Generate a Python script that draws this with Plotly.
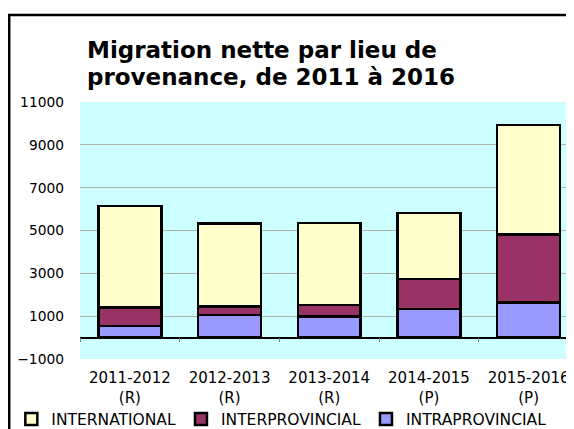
import plotly.graph_objects as go

categories = ["2011-2012<br>(R)", "2012-2013<br>(R)", "2013-2014<br>(R)",
              "2014-2015<br>(P)", "2015-2016<br>(P)"]
intraprovincial = [530, 1060, 980, 1340, 1650]
interprovincial = [870, 390, 550, 1390, 3170]
international = [4750, 3880, 3830, 3090, 5100]

title_lines = ["Migration nette par lieu de", "provenance, de 2011 à 2016"]

series = [
    ("INTRAPROVINCIAL", intraprovincial, "#9999ff"),
    ("INTERPROVINCIAL", interprovincial, "#993366"),
    ("INTERNATIONAL", international, "#ffffcc"),
]

fig = go.Figure()
for name, vals, color in series:
    fig.add_bar(
        x=categories,
        y=vals,
        name=name,
        marker_color=color,
        marker_line_color="black",
        marker_line_width=2.5,
    )

font = "DejaVu Sans, Verdana, sans-serif"
y_lo, y_hi = -1000, 11000

# page body adds an 8px offset, layout numbers below account for it
fig.update_layout(
    width=574,
    height=429,
    barmode="stack",
    bargap=0.37,
    margin=dict(l=72, r=8, t=94, b=78, autoexpand=False),
    paper_bgcolor="white",
    plot_bgcolor="#ccffff",
    font=dict(family=font, size=14, color="black"),
    showlegend=True,
    legend=dict(
        orientation="h", traceorder="reversed",
        x=-0.139, xanchor="left", y=-0.169, yanchor="top",
        font=dict(size=15.5), bgcolor="rgba(0,0,0,0)",
    ),
    xaxis=dict(
        anchor="free", position=(0 - y_lo) / (y_hi - y_lo),
        showline=True, linecolor="black", linewidth=1.5,
        ticks="outside", tickson="boundaries", ticklen=4, tickcolor="#808080",
        ticklabelstandoff=27, showgrid=False,
        tickfont=dict(size=15),
        range=[-0.5, 4.455],
    ),
    yaxis=dict(
        range=[y_lo, y_hi], tickvals=list(range(-1000, 11001, 2000)),
        tickformat="d",
        showgrid=True, gridcolor="#b0b0b0", gridwidth=1,
        zeroline=False, ticks="", ticklabelstandoff=15,
        tickfont=dict(size=13.8),
    ),
    shapes=[dict(
        type="rect", xref="paper", yref="paper",
        x0=-0.1433, x1=1.2, y0=-0.5, y1=1.3385,
        line=dict(color="black", width=2.5), fillcolor="rgba(0,0,0,0)",
        layer="above",
    )],
)

for line, ypos in zip(title_lines, [1.2012, 1.0961]):
    fig.add_annotation(
        text="<b>" + line + "</b>",
        xref="paper", yref="paper", x=0.011, y=ypos,
        xanchor="left", yanchor="middle", showarrow=False,
        font=dict(family=font, size=23, color="black"),
    )

fig.write_html("out.html")
